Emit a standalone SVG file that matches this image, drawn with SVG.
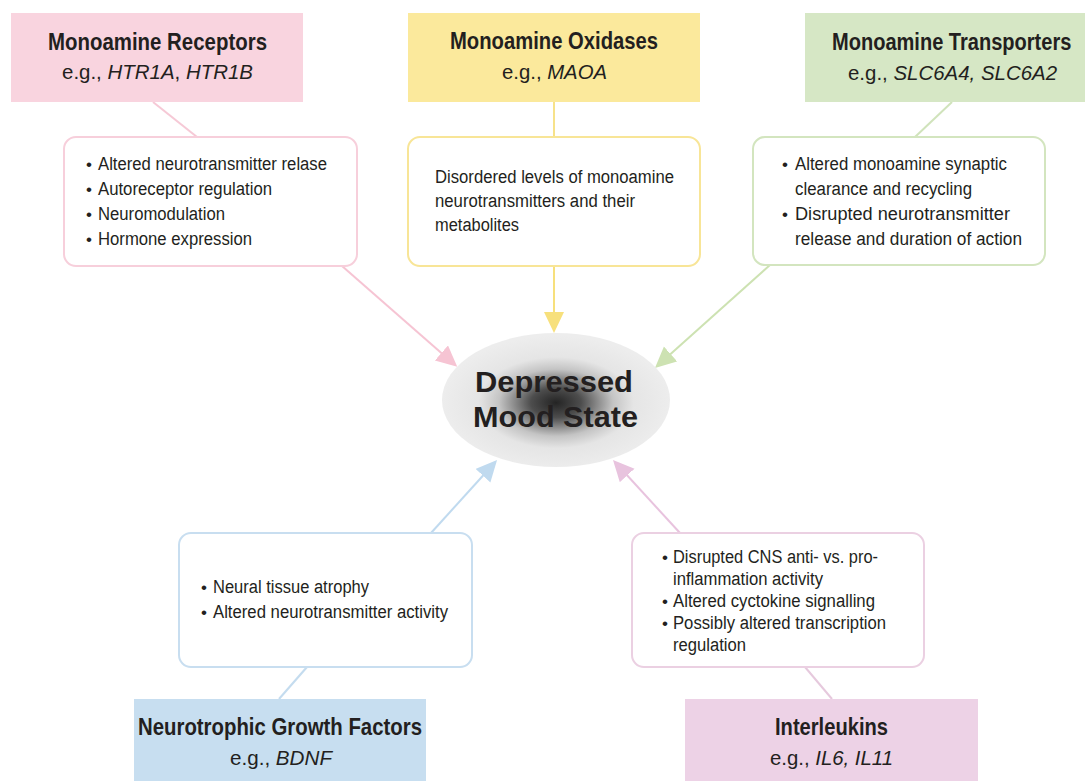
<svg xmlns="http://www.w3.org/2000/svg" width="1085" height="781" viewBox="0 0 1085 781">
<defs>
<style>
text{font-family:"Liberation Sans",Arial,sans-serif;fill:#231f20}
.t{font-size:24px;font-weight:bold}
.s{font-size:21px}
.b{font-size:18px}
.bl{font-size:17px}
.conn line{stroke-width:2;fill:none}
.det{fill:#fff;stroke-width:2}
</style>
<radialGradient id="core" cx="0.5" cy="0.52" r="0.5">
<stop offset="0" stop-color="#242424"/>
<stop offset="0.22" stop-color="#4d4d4d"/>
<stop offset="0.5" stop-color="#c4c4c4"/>
<stop offset="0.68" stop-color="#e5e5e5"/>
<stop offset="1" stop-color="#ededed"/>
</radialGradient>
<marker id="mPink" markerUnits="userSpaceOnUse" markerWidth="22" markerHeight="22" refX="9" refY="10" orient="auto"><path d="M0,0 L21,10 L0,20 z" fill="#f6c4d3"/></marker>
<marker id="mYel" markerUnits="userSpaceOnUse" markerWidth="22" markerHeight="22" refX="9" refY="10" orient="auto"><path d="M0,0 L21,10 L0,20 z" fill="#f7e07c"/></marker>
<marker id="mGrn" markerUnits="userSpaceOnUse" markerWidth="22" markerHeight="22" refX="9" refY="10" orient="auto"><path d="M0,0 L21,10 L0,20 z" fill="#cde2b2"/></marker>
<marker id="mBlu" markerUnits="userSpaceOnUse" markerWidth="22" markerHeight="22" refX="9" refY="10" orient="auto"><path d="M0,0 L21,10 L0,20 z" fill="#c0daef"/></marker>
<marker id="mMag" markerUnits="userSpaceOnUse" markerWidth="22" markerHeight="22" refX="9" refY="10" orient="auto"><path d="M0,0 L21,10 L0,20 z" fill="#e8c3de"/></marker>
</defs>
<rect width="1085" height="781" fill="#fff"/>

<g id="connectors" class="conn">
<line x1="153" y1="102" x2="197" y2="137" stroke="#f6c9d6"/>
<line x1="554" y1="102" x2="554" y2="137" stroke="#f7e28a"/>
<line x1="952" y1="102" x2="915" y2="137" stroke="#d0e3bb"/>
<line x1="279" y1="699" x2="307" y2="667" stroke="#c4dcef"/>
<line x1="832" y1="699" x2="805" y2="667" stroke="#e6c9dd"/>
<line x1="342" y1="266" x2="448.2" y2="358.9" stroke="#f6c4d3" marker-end="url(#mPink)"/>
<line x1="554" y1="266" x2="554" y2="321" stroke="#f7e07c" marker-end="url(#mYel)"/>
<line x1="770" y1="265" x2="663.9" y2="360" stroke="#cde2b2" marker-end="url(#mGrn)"/>
<line x1="431" y1="533" x2="489" y2="469" stroke="#c0daef" marker-end="url(#mBlu)"/>
<line x1="680" y1="533" x2="621.1" y2="468.8" stroke="#e8c3de" marker-end="url(#mMag)"/>
</g>

<g id="center">
<ellipse cx="556" cy="400" rx="114" ry="67" fill="url(#core)"/>
<text x="475" y="392" style="font-size:29px;font-weight:bold" textLength="158" lengthAdjust="spacingAndGlyphs">Depressed</text>
<text x="473" y="427" style="font-size:29px;font-weight:bold" textLength="165" lengthAdjust="spacingAndGlyphs">Mood State</text>
</g>

<g id="receptors">
<rect x="11" y="13" width="292" height="89" fill="#f9d4df"/>
<text class="t" x="48" y="50" textLength="219" lengthAdjust="spacingAndGlyphs">Monoamine Receptors</text>
<text class="s" x="62" y="79" textLength="191" lengthAdjust="spacingAndGlyphs">e.g., <tspan font-style="italic">HTR1A</tspan>, <tspan font-style="italic">HTR1B</tspan></text>
</g>
<g id="receptors-effects">
<rect class="det" x="64" y="137" width="293" height="129" rx="12" stroke="#f7cfdb"/>
<text class="bl" x="86" y="170">•</text><text class="b" x="98" y="170" textLength="229" lengthAdjust="spacingAndGlyphs">Altered neurotransmitter relase</text>
<text class="bl" x="86" y="195">•</text><text class="b" x="98" y="195" textLength="174" lengthAdjust="spacingAndGlyphs">Autoreceptor regulation</text>
<text class="bl" x="86" y="220">•</text><text class="b" x="98" y="220" textLength="127" lengthAdjust="spacingAndGlyphs">Neuromodulation</text>
<text class="bl" x="86" y="245">•</text><text class="b" x="98" y="245" textLength="154" lengthAdjust="spacingAndGlyphs">Hormone expression</text>
</g>

<g id="oxidases">
<rect x="408" y="13" width="292" height="89" fill="#fbe99c"/>
<text class="t" x="450" y="49" textLength="208" lengthAdjust="spacingAndGlyphs">Monoamine Oxidases</text>
<text class="s" x="502" y="79" textLength="105" lengthAdjust="spacingAndGlyphs">e.g., <tspan font-style="italic">MAOA</tspan></text>
</g>
<g id="oxidases-effects">
<rect class="det" x="408" y="137" width="292" height="129" rx="12" stroke="#f8e597"/>
<text class="b" x="435" y="183" textLength="239" lengthAdjust="spacingAndGlyphs">Disordered levels of monoamine</text>
<text class="b" x="435" y="207" textLength="200" lengthAdjust="spacingAndGlyphs">neurotransmitters and their</text>
<text class="b" x="435" y="231" textLength="84" lengthAdjust="spacingAndGlyphs">metabolites</text>
</g>

<g id="transporters">
<rect x="805" y="13" width="280" height="89" fill="#d6e7c5"/>
<text class="t" transform="translate(832,50) scale(0.88,1)" x="0" y="0" textLength="272" lengthAdjust="spacingAndGlyphs">Monoamine Transporters</text>
<text class="s" x="848" y="80" textLength="209" lengthAdjust="spacingAndGlyphs">e.g., <tspan font-style="italic">SLC6A4, SLC6A2</tspan></text>
</g>
<g id="transporters-effects">
<rect class="det" x="753" y="137" width="292" height="128" rx="12" stroke="#d3e5bf"/>
<text class="bl" x="782" y="170">•</text><text class="b" x="795" y="170" textLength="212" lengthAdjust="spacingAndGlyphs">Altered monoamine synaptic</text>
<text class="b" x="795" y="195" textLength="177" lengthAdjust="spacingAndGlyphs">clearance and recycling</text>
<text class="bl" x="782" y="220">•</text><text class="b" x="795" y="220" textLength="215" lengthAdjust="spacingAndGlyphs">Disrupted neurotransmitter</text>
<text class="b" x="795" y="245" textLength="227" lengthAdjust="spacingAndGlyphs">release and duration of action</text>
</g>

<g id="growth-factors-effects">
<rect class="det" x="179" y="533" width="293" height="134" rx="12" stroke="#c8def0"/>
<text class="bl" x="201" y="593">•</text><text class="b" x="213" y="593" textLength="156" lengthAdjust="spacingAndGlyphs">Neural tissue atrophy</text>
<text class="bl" x="201" y="618">•</text><text class="b" x="213" y="618" textLength="235" lengthAdjust="spacingAndGlyphs">Altered neurotransmitter activity</text>
</g>
<g id="growth-factors">
<rect x="134" y="699" width="292" height="82" fill="#c7def0"/>
<text class="t" x="138" y="735" textLength="284" lengthAdjust="spacingAndGlyphs">Neurotrophic Growth Factors</text>
<text class="s" x="230" y="765" textLength="102" lengthAdjust="spacingAndGlyphs">e.g., <tspan font-style="italic">BDNF</tspan></text>
</g>

<g id="interleukins-effects">
<rect class="det" x="632" y="533" width="292" height="134" rx="12" stroke="#ebd0e2"/>
<text class="bl" x="662" y="563">•</text><text class="b" x="673" y="563" textLength="205" lengthAdjust="spacingAndGlyphs">Disrupted CNS anti- vs. pro-</text>
<text class="b" x="673" y="585" textLength="150" lengthAdjust="spacingAndGlyphs">inflammation activity</text>
<text class="bl" x="662" y="607">•</text><text class="b" x="673" y="607" textLength="202" lengthAdjust="spacingAndGlyphs">Altered cyctokine signalling</text>
<text class="bl" x="662" y="629">•</text><text class="b" x="673" y="629" textLength="213" lengthAdjust="spacingAndGlyphs">Possibly altered transcription</text>
<text class="b" x="673" y="651" textLength="73" lengthAdjust="spacingAndGlyphs">regulation</text>
</g>
<g id="interleukins">
<rect x="685" y="699" width="293" height="82" fill="#edd2e6"/>
<text class="t" x="775" y="735" textLength="113" lengthAdjust="spacingAndGlyphs">Interleukins</text>
<text class="s" x="770" y="765" textLength="123" lengthAdjust="spacingAndGlyphs">e.g., <tspan font-style="italic">IL6, IL11</tspan></text>
</g>
</svg>
